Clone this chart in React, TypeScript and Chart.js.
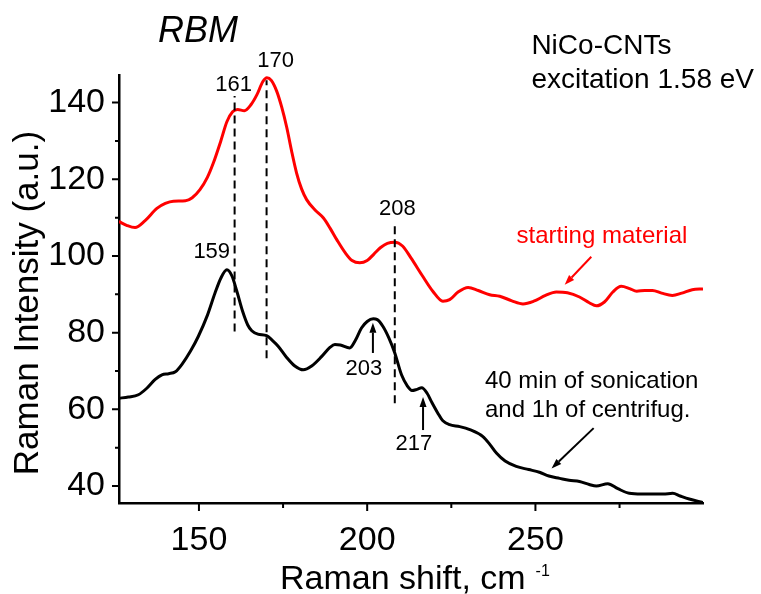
import React, { useEffect, useRef } from 'react';
import { Chart, registerables } from 'chart.js';

Chart.register(...registerables);

// ---- data ----
const redX = [126.2, 128.5, 131.0, 134.0, 137.5, 140.0, 142.4, 146.0, 148.0, 150.3, 152.5, 154.3, 156.5, 158.3, 160.0, 161.5, 163.5, 165.5, 167.2, 169.0, 170.2, 171.5, 173.1, 174.6, 176.1, 177.5, 179.0, 180.5, 182.0, 184.5, 187.0, 189.0, 191.0, 193.5, 195.5, 197.8, 200.0, 202.0, 204.0, 206.0, 208.2, 210.5, 213.0, 216.5, 219.5, 222.5, 224.5, 227.0, 230.0, 233.0, 236.4, 239.4, 243.0, 246.3, 249.5, 253.0, 256.2, 259.5, 263.1, 266.0, 268.1, 270.5, 273.0, 275.5, 278.0, 280.1, 282.5, 284.8, 287.5, 290.7, 293.5, 296.6, 299.8];
const redY = [109.0, 108.0, 107.4, 109.2, 112.4, 113.7, 114.3, 114.4, 115.2, 117.3, 120.5, 124.3, 130.0, 135.0, 137.6, 138.2, 137.9, 139.5, 142.0, 145.5, 146.5, 145.8, 143.0, 138.8, 133.5, 127.5, 121.7, 117.5, 114.7, 112.0, 109.9, 107.2, 104.2, 100.8, 98.8, 98.2, 98.8, 100.5, 102.2, 103.3, 103.6, 102.6, 99.5, 94.7, 90.8, 88.2, 88.6, 90.6, 91.8, 91.0, 89.9, 89.5, 88.3, 87.5, 88.2, 89.7, 90.6, 90.4, 89.3, 87.8, 87.0, 88.0, 90.6, 92.1, 91.5, 90.8, 91.0, 91.0, 90.3, 89.7, 90.3, 91.2, 91.4];

const blackX = [126.2, 129.0, 132.0, 134.5, 137.0, 139.0, 141.0, 143.0, 145.0, 147.5, 149.8, 152.5, 154.8, 156.5, 158.3, 159.8, 161.2, 163.0, 164.5, 165.7, 167.5, 170.1, 171.8, 173.6, 176.0, 178.5, 181.0, 183.5, 186.5, 189.0, 190.4, 192.0, 194.8, 196.5, 198.3, 200.0, 201.8, 203.0, 204.7, 206.5, 208.2, 210.2, 212.0, 213.3, 214.8, 216.2, 217.8, 219.1, 221.0, 222.5, 224.5, 227.5, 230.5, 234.4, 236.5, 238.4, 241.0, 244.3, 248.0, 251.2, 254.0, 257.2, 260.0, 263.1, 266.0, 268.1, 271.5, 274.5, 277.9, 281.5, 284.8, 288.0, 290.8, 293.0, 295.7, 299.8];
const blackY = [62.9, 63.2, 63.8, 65.5, 67.8, 69.0, 69.3, 69.8, 71.8, 75.2, 79.0, 84.5, 90.4, 94.2, 96.4, 94.8, 91.0, 85.5, 82.0, 80.5, 79.6, 79.2, 78.0, 76.4, 73.6, 71.3, 70.3, 71.3, 73.8, 76.2, 76.9, 76.8, 76.0, 78.0, 81.2, 82.9, 83.6, 83.4, 81.6, 78.5, 74.7, 69.0, 66.0, 64.9, 65.2, 65.6, 64.2, 62.0, 59.0, 57.0, 56.0, 55.5, 54.7, 52.9, 50.8, 48.6, 46.5, 45.1, 44.3, 43.6, 42.6, 42.0, 41.5, 41.2, 40.4, 40.0, 40.6, 39.3, 38.1, 37.9, 37.9, 37.9, 38.1, 37.4, 36.6, 35.7];

const xRange = [126.24, 299.8];
const yRange = [35.57, 147.2];
const xTicks = [150, 200, 250];
const xMinorTicks = [175, 225, 275];
const yTicks = [40, 60, 80, 100, 120, 140];
const yMinorTicks = [50, 70, 90, 110, 130];

const xTitle = 'Raman shift, cm';
const xTitleSup = '-1';
const yTitle = 'Raman Intensity (a.u.)';

// dashed guide lines at peak positions (data coords)
const peakLines = [
  { x: 160.6, y0: 80.3, y1: 141.7 },
  { x: 170.1, y0: 73.3, y1: 145.8 },
  { x: 208.2, y0: 61.6, y1: 108.9 },
];

// peak labels (data coords, centred, baseline)
const peakLabels = [
  { text: '161', x: 160.3, y: 142.9 },
  { text: '170', x: 172.8, y: 149.4 },
  { text: '208', x: 209.0, y: 110.7 },
  { text: '159', x: 153.8, y: 99.4 },
  { text: '203', x: 199.0, y: 69.0 },
  { text: '217', x: 213.9, y: 49.4 },
];

// arrows (data coords) from -> tip
const arrows = [
  { x0: 201.7, y0: 74.7, x1: 201.7, y1: 82.6, color: '#000' },
  { x0: 216.6, y0: 54.6, x1: 216.6, y1: 63.2, color: '#000' },
  { x0: 266.6, y0: 99.8, x1: 258.7, y1: 92.5, color: '#ff0000' },
  { x0: 267.3, y0: 55.1, x1: 254.8, y1: 44.6, color: '#000' },
];

// text notes (data coords, left aligned, baseline)
const notes = [
  { text: 'NiCo-CNTs', x: 248.8, y: 152.7, size: 28, color: '#000', italic: false, align: 'left' },
  { text: 'excitation 1.58 eV', x: 248.8, y: 143.8, size: 28, color: '#000', italic: false, align: 'left' },
  { text: 'starting material', x: 244.4, y: 103.4, size: 24, color: '#ff0000', italic: false, align: 'left' },
  { text: '40 min of sonication', x: 235.0, y: 65.5, size: 24, color: '#000', italic: false, align: 'left' },
  { text: 'and 1h of centrifug.', x: 235.0, y: 58.1, size: 24, color: '#000', italic: false, align: 'left' },
  { text: 'RBM', x: 149.7, y: 155.8, size: 36, color: '#000', italic: true, align: 'center' },
];

const FONT = '"Liberation Sans", Arial, Helvetica, sans-serif';

const toPts = (xs: number[], ys: number[]) => xs.map((x, i) => ({ x, y: ys[i] }));

const annotPlugin = {
  id: 'annot',
  afterDraw(chart: any) {
    const ctx: CanvasRenderingContext2D = chart.ctx;
    const xs = chart.scales.x;
    const ys = chart.scales.y;
    const area = chart.chartArea;
    const px = (v: number) => xs.getPixelForValue(v);
    const py = (v: number) => ys.getPixelForValue(v);
    ctx.save();
    // tick marks
    ctx.strokeStyle = '#000';
    ctx.lineWidth = 2;
    ctx.beginPath();
    xTicks.forEach((v) => { const p = px(v); ctx.moveTo(p, area.bottom); ctx.lineTo(p, area.bottom + 8); });
    xMinorTicks.forEach((v) => { const p = px(v); ctx.moveTo(p, area.bottom); ctx.lineTo(p, area.bottom + 5); });
    yTicks.forEach((v) => { const p = py(v); ctx.moveTo(area.left, p); ctx.lineTo(area.left - 7, p); });
    yMinorTicks.forEach((v) => { const p = py(v); ctx.moveTo(area.left, p); ctx.lineTo(area.left - 4, p); });
    ctx.stroke();

    // dashed lines
    ctx.setLineDash([8, 5]);
    ctx.lineWidth = 2;
    peakLines.forEach((l) => {
      ctx.beginPath();
      ctx.moveTo(px(l.x), py(l.y0));
      ctx.lineTo(px(l.x), py(l.y1));
      ctx.stroke();
    });
    ctx.setLineDash([]);

    // arrows
    arrows.forEach((a) => {
      const x0 = px(a.x0), y0 = py(a.y0), x1 = px(a.x1), y1 = py(a.y1);
      const ang = Math.atan2(y1 - y0, x1 - x0);
      const hl = 10, hw = 3.5;
      const bx = x1 - hl * Math.cos(ang), by = y1 - hl * Math.sin(ang);
      ctx.strokeStyle = a.color;
      ctx.fillStyle = a.color;
      ctx.lineWidth = 2;
      ctx.beginPath();
      ctx.moveTo(x0, y0);
      ctx.lineTo(bx, by);
      ctx.stroke();
      ctx.beginPath();
      ctx.moveTo(x1, y1);
      ctx.lineTo(bx + hw * Math.sin(ang), by - hw * Math.cos(ang));
      ctx.lineTo(bx - hw * Math.sin(ang), by + hw * Math.cos(ang));
      ctx.closePath();
      ctx.fill();
    });

    // peak labels
    ctx.fillStyle = '#000';
    ctx.font = `22px ${FONT}`;
    ctx.textAlign = 'center';
    ctx.textBaseline = 'alphabetic';
    peakLabels.forEach((l) => ctx.fillText(l.text, px(l.x), py(l.y)));

    // notes
    notes.forEach((n) => {
      ctx.font = `${n.italic ? 'italic ' : ''}${n.size}px ${FONT}`;
      ctx.fillStyle = n.color;
      ctx.textAlign = n.align as CanvasTextAlign;
      ctx.fillText(n.text, px(n.x), py(n.y));
    });

    // axis titles
    ctx.fillStyle = '#000';
    ctx.font = `34px ${FONT}`;
    ctx.textAlign = 'left';
    const tx = 280, tyb = 589;
    ctx.fillText(xTitle, tx, tyb);
    const w = ctx.measureText(xTitle).width;
    ctx.font = `16px ${FONT}`;
    ctx.fillText(xTitleSup, tx + w + 10, 576);

    ctx.save();
    ctx.font = `35px ${FONT}`;
    ctx.translate(38, 303);
    ctx.rotate(-Math.PI / 2);
    ctx.textAlign = 'center';
    ctx.fillText(yTitle, 0, 0);
    ctx.restore();

    ctx.restore();
  },
};

export default function App() {
  const ref = useRef<HTMLCanvasElement | null>(null);
  useEffect(() => {
    if (!ref.current) return;
    const tickFont = { family: FONT, size: 34 };
    const chart = new Chart(ref.current, {
      type: 'scatter',
      data: {
        datasets: [
          {
            data: toPts(redX, redY),
            showLine: true,
            borderColor: '#ff0000',
            borderWidth: 3,
            pointRadius: 0,
            cubicInterpolationMode: 'monotone',
          } as any,
          {
            data: toPts(blackX, blackY),
            showLine: true,
            borderColor: '#000000',
            borderWidth: 3,
            pointRadius: 0,
            cubicInterpolationMode: 'monotone',
          } as any,
        ],
      },
      options: {
        responsive: false,
        animation: false,
        layout: { padding: { top: 75, right: 58, left: 0, bottom: 0 } },
        plugins: { legend: { display: false }, tooltip: { enabled: false } },
        scales: {
          x: {
            type: 'linear',
            min: xRange[0],
            max: xRange[1],
            grid: { display: false },
            border: { display: true, color: '#000', width: 2.5 },
            ticks: { font: tickFont, color: '#000', padding: 9, autoSkip: false, maxRotation: 0, callback: (v: any) => String(v) },
            afterBuildTicks: (s: any) => { s.ticks = xTicks.map((v) => ({ value: v })); },
            afterFit: (s: any) => { s.height = 91; },
          },
          y: {
            type: 'linear',
            min: yRange[0],
            max: yRange[1],
            grid: { display: false },
            border: { display: true, color: '#000', width: 2.5 },
            ticks: { font: tickFont, color: '#000', padding: 6, autoSkip: false, callback: (v: any) => String(v) },
            afterBuildTicks: (s: any) => { s.ticks = yTicks.map((v) => ({ value: v })); },
            afterFit: (s: any) => { s.width = 119; },
          },
        },
      } as any,
      plugins: [annotPlugin],
    });
    return () => chart.destroy();
  }, []);
  return (
    <canvas
      ref={ref}
      width={761}
      height={594}
      style={{ position: 'absolute', left: 0, top: 0, width: 761, height: 594, background: '#fff' }}
    />
  );
}
